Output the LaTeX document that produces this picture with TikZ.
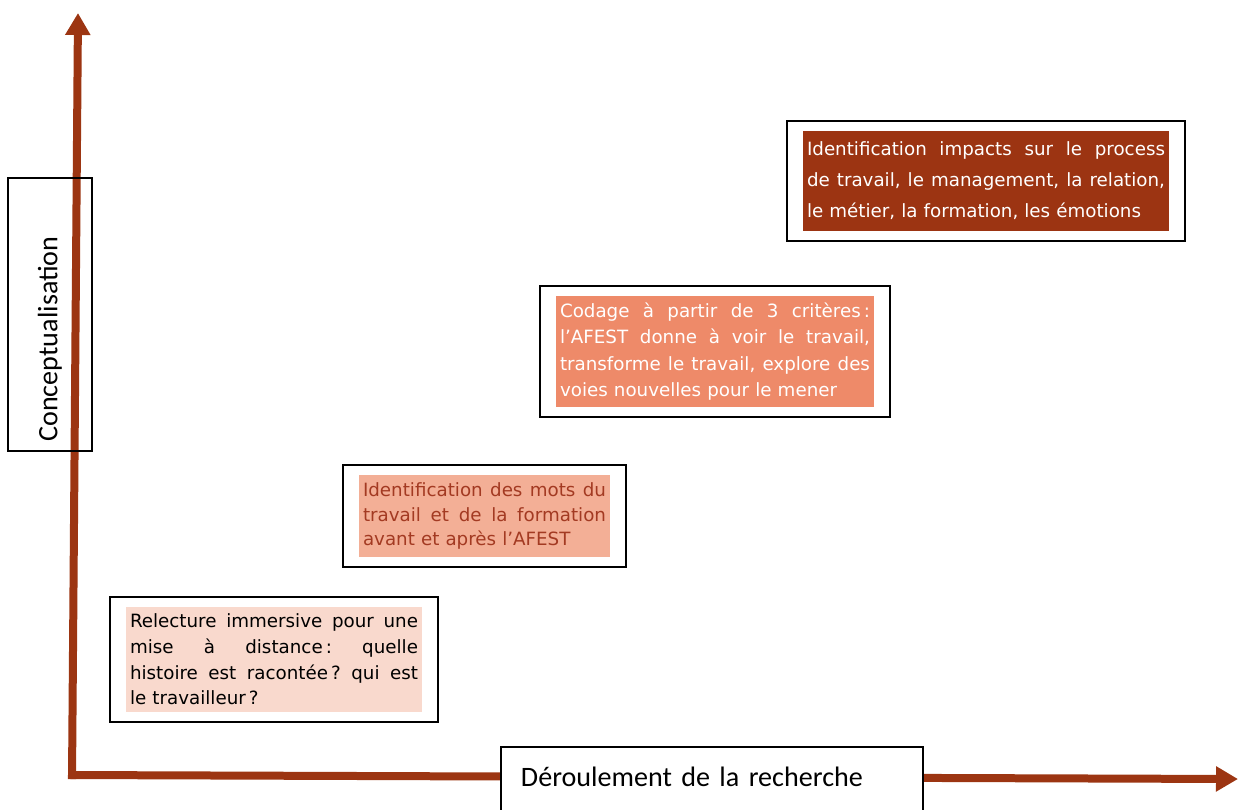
\documentclass[tikz,border=0pt]{standalone}
\usepackage{fontspec}
\setmainfont{DejaVu Sans}
\newfontfamily\captionfont{Carlito}
\usetikzlibrary{arrows.meta,fit,positioning}

\definecolor{axisbrown}{HTML}{9C3512}
\definecolor{palepink}{HTML}{F9D9CD}
\definecolor{lightsalmon}{HTML}{F3AF96}
\definecolor{salmon}{HTML}{EE8A69}
\definecolor{darkrust}{HTML}{9C3412}
\definecolor{rusttext}{HTML}{A33A22}

\newdimen\px \px=0.02cm
% one justified line of a box
\newcommand{\jline}[1]{\noindent\hbox to\hsize{\frenchspacing\spaceskip=0.318em plus 1fil\relax #1}\\}

\begin{document}
\begin{tikzpicture}[
    x=0.02cm, y=-0.02cm,
    axis/.style={
        line width=0.16cm,
        draw=axisbrown,
        -{Triangle[width=0.48cm,length=0.44cm]}
    },
    stage/.style={
        rectangle,
        inner xsep=4\px,
        inner ysep=0pt,
        align=left
    },
    frame/.style={
        rectangle,
        draw=black,
        line width=1.1pt,
        inner xsep=16\px,
        inner ysep=10\px
    },
    caption/.style={
        rectangle,
        draw=black,
        line width=1.1pt,
        font=\captionfont\fontsize{16}{19}\selectfont
    }
]
\useasboundingbox (0,0) rectangle (1238,809);
\coordinate (yorigin) at (72,779);
\coordinate (ytip) at (78,13);
\coordinate (xorigin) at (68,775);
\coordinate (xtip) at (1238,779);
\draw [axis] (yorigin) -- (ytip);
\draw [axis] (xorigin) -- (xtip);
\node (concept) [caption, rotate=90, minimum width=273\px, minimum height=84\px] at (50,314.5) {Conceptualisation\hspace*{49\px}};
\node (deroulement) [caption, fill=white, anchor=north west, inner xsep=20\px, inner ysep=0pt, text width=382\px, align=left, text height=40\px, text depth=60\px] at (500,746) {Déroulement de la recherche};
\node (relecture) [stage, fill=palepink, text width=288\px, minimum height=105\px, font=\fontsize{10.4}{14.6}\selectfont] at (274,659.5) {\jline{Relecture immersive pour une}\jline{mise à distance\,: quelle}\jline{histoire est racontée\,? qui est}le travailleur\,?};
\node (motsafest) [stage, fill=lightsalmon, text=rusttext, text width=243\px, minimum height=82\px, font=\fontsize{10.4}{13.9}\selectfont] at (484.5,516) {\jline{Identification des mots du}\jline{travail et de la formation}avant et après l’AFEST};
\node (codage) [stage, fill=salmon, text=white, text width=310\px, minimum height=111\px, font=\fontsize{10.4}{15}\selectfont] at (715,351.5) {\jline{Codage à partir de 3 critères\,:}\jline{l’AFEST donne à voir le travail,}\jline{transforme le travail, explore des}voies nouvelles pour le mener};
\node (impacts) [stage, fill=darkrust, text=white, text width=358\px, minimum height=100\px, font=\fontsize{10.4}{17.6}\selectfont] at (986,181) {\jline{Identification impacts sur le process}\jline{de travail, le management, la relation,}le métier, la formation, les émotions};
\node (relectureframe) [frame, fit=(relecture)] {};
\node (motsafestframe) [frame, fit=(motsafest)] {};
\node (codageframe) [frame, fit=(codage)] {};
\node (impactsframe) [frame, fit=(impacts)] {};
\end{tikzpicture}
\end{document}
